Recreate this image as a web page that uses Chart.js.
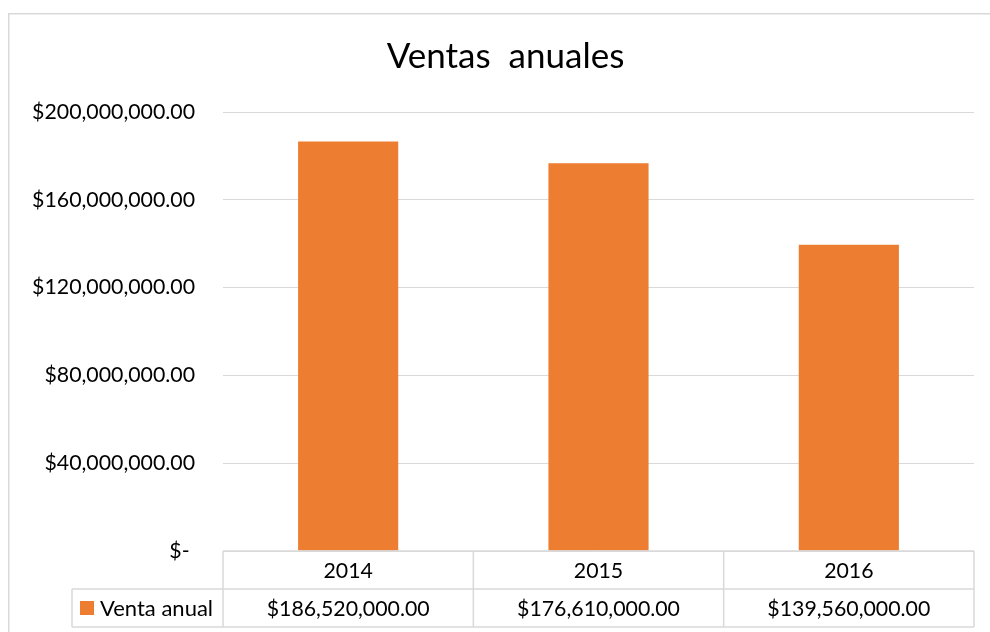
<!DOCTYPE html>
<html><head><meta charset="utf-8">
<script src="https://cdn.jsdelivr.net/npm/chart.js@4/dist/chart.umd.min.js"></script>
<style>html,body{margin:0;padding:0;background:#fff;overflow:hidden}canvas{display:block}</style>
</head><body>
<canvas id="c" width="990" height="632"></canvas>
<script>
const chartTitle = 'Ventas  anuales';
const seriesName = 'Venta anual';
const categories = ['2014', '2015', '2016'];
const ventas = [186520000, 176610000, 139560000];
const yTickValues = [0, 40000000, 80000000, 120000000, 160000000, 200000000];
const yTickLabels = ['$- ', '$40,000,000.00', '$80,000,000.00', '$120,000,000.00', '$160,000,000.00', '$200,000,000.00'];

const FONT = 'Lato';
const GRID = '#d9d9d9';
const BAR = '#ED7D31';
const TXT = 21.3;

function money(v) {
  return '$' + v.toLocaleString('en-US', {minimumFractionDigits: 2, maximumFractionDigits: 2});
}

const frame = {
  id: 'frame',
  afterLayout(chart) {
    if (chart.titleBlock) { chart.titleBlock.left = 37; }
  },
  beforeDraw(chart) {
    const ctx = chart.ctx;
    ctx.save();
    ctx.fillStyle = '#fff';
    ctx.fillRect(0, 0, chart.width, chart.height);
    ctx.strokeStyle = GRID;
    ctx.lineWidth = 1.5;
    ctx.strokeRect(8.75, 13.75, 1200, 1200);
    ctx.restore();
  }
};

const dataTable = {
  id: 'dataTable',
  afterDraw(chart) {
    const {ctx, chartArea: a, scales: {x}} = chart;
    const n = categories.length;
    const cw = (a.right - a.left) / n;
    const top = a.bottom, rowH = 38;
    const r1 = top + rowH, r2 = top + 2 * rowH;
    const legendLeft = 72;
    ctx.save();
    ctx.strokeStyle = GRID;
    ctx.lineWidth = 1.5;
    const line = (x1, y1, x2, y2) => { ctx.beginPath(); ctx.moveTo(x1, y1); ctx.lineTo(x2, y2); ctx.stroke(); };
    line(a.left, top, a.right, top);
    line(legendLeft, r1, a.right, r1);
    line(legendLeft, r2, a.right, r2);
    for (let i = 0; i <= n; i++) {
      const xx = a.left + i * cw;
      line(xx, top, xx, r2);
    }
    line(legendLeft, r1, legendLeft, r2);
    ctx.font = TXT + 'px ' + FONT;
    ctx.fillStyle = '#000';
    ctx.textAlign = 'center';
    ctx.textBaseline = 'middle';
    for (let i = 0; i < n; i++) {
      const cx = x.getPixelForValue(i);
      ctx.fillText(categories[i], cx, (top + r1) / 2 + 1);
      ctx.fillText(money(ventas[i]), cx, (r1 + r2) / 2 + 1);
    }
    const mid = (r1 + r2) / 2;
    ctx.fillStyle = BAR;
    ctx.fillRect(legendLeft + 8, mid - 7, 14, 14);
    ctx.fillStyle = '#000';
    ctx.textAlign = 'left';
    ctx.font = '22px ' + FONT;
    ctx.fillText(seriesName, legendLeft + 28, mid + 1);
    ctx.restore();
  }
};

new Chart(document.getElementById('c'), {
  type: 'bar',
  data: {
    labels: categories,
    datasets: [{
      label: seriesName,
      data: ventas,
      backgroundColor: BAR,
      borderWidth: 0,
      barPercentage: 0.4,
      categoryPercentage: 1.0
    }]
  },
  options: {
    responsive: false,
    animation: false,
    devicePixelRatio: 1,
    layout: {padding: {left: 12, right: 16, top: 14, bottom: 81}},
    plugins: {
      legend: {display: false},
      tooltip: {enabled: false},
      title: {
        display: true,
        text: chartTitle,
        color: '#000',
        font: {family: FONT, size: 35, weight: 'normal'},
        padding: {top: 22, bottom: 34}
      }
    },
    scales: {
      x: {display: false},
      y: {
        min: 0,
        max: 200000000,
        border: {display: false},
        grid: {color: GRID, lineWidth: 1, drawTicks: false},
        afterFit(s) { s.width = 211; },
        afterBuildTicks(s) { s.ticks = yTickValues.map(v => ({value: v})); },
        ticks: {
          padding: 28,
          color: '#000',
          font: {family: FONT, size: TXT},
          callback: (v) => yTickLabels[yTickValues.indexOf(v)]
        }
      }
    }
  },
  plugins: [frame, dataTable]
});
</script>
</body></html>
